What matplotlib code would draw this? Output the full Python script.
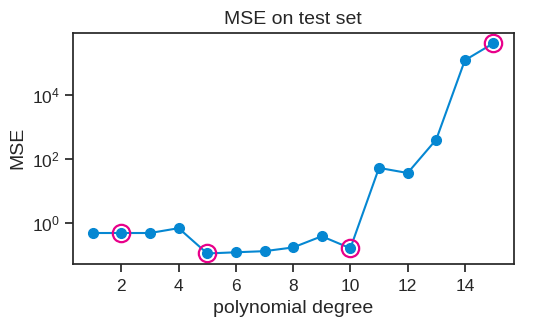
import numpy as np
import matplotlib.pyplot as plt
import seaborn as sns
from matplotlib.ticker import NullLocator

sns.set_theme(style="ticks")
plt.rcParams['font.family'] = ['Liberation Sans', 'DejaVu Sans']

degrees = [1, 2, 3, 4, 5, 6, 7, 8, 9, 10, 11, 12, 13, 14, 15]
mse = [0.48, 0.48, 0.48, 0.68, 0.11, 0.12, 0.13, 0.17, 0.38, 0.16,
       52, 36, 400, 1.2e5, 4.1e5]
highlight = [2, 5, 10, 15]
yticks = [1, 1e2, 1e4]

hl_vals = [mse[degrees.index(d)] for d in highlight]

fig = plt.figure(figsize=(5.51, 3.3), dpi=100)
ax = fig.add_axes([0.132, 0.2, 0.8, 0.701])

ax.plot(degrees, mse, '-o', color='#0587d2', markersize=7, linewidth=1.5)
ax.plot(highlight, hl_vals, 'o', markersize=12.5, markerfacecolor='none',
        markeredgecolor='#e8008a', markeredgewidth=1.6)
ax.set_yscale('log')
ax.set_yticks(yticks)
ax.yaxis.set_minor_locator(NullLocator())
ax.set_xticks([2, 4, 6, 8, 10, 12, 14])
ax.tick_params(labelsize=12.5)
ax.tick_params(axis='x', pad=5)
ax.set_title('MSE on test set', fontsize=14)
ax.set_xlabel('polynomial degree', fontsize=14, labelpad=4)
ax.set_ylabel('MSE', fontsize=14)

plt.savefig('out.png', dpi=100)
